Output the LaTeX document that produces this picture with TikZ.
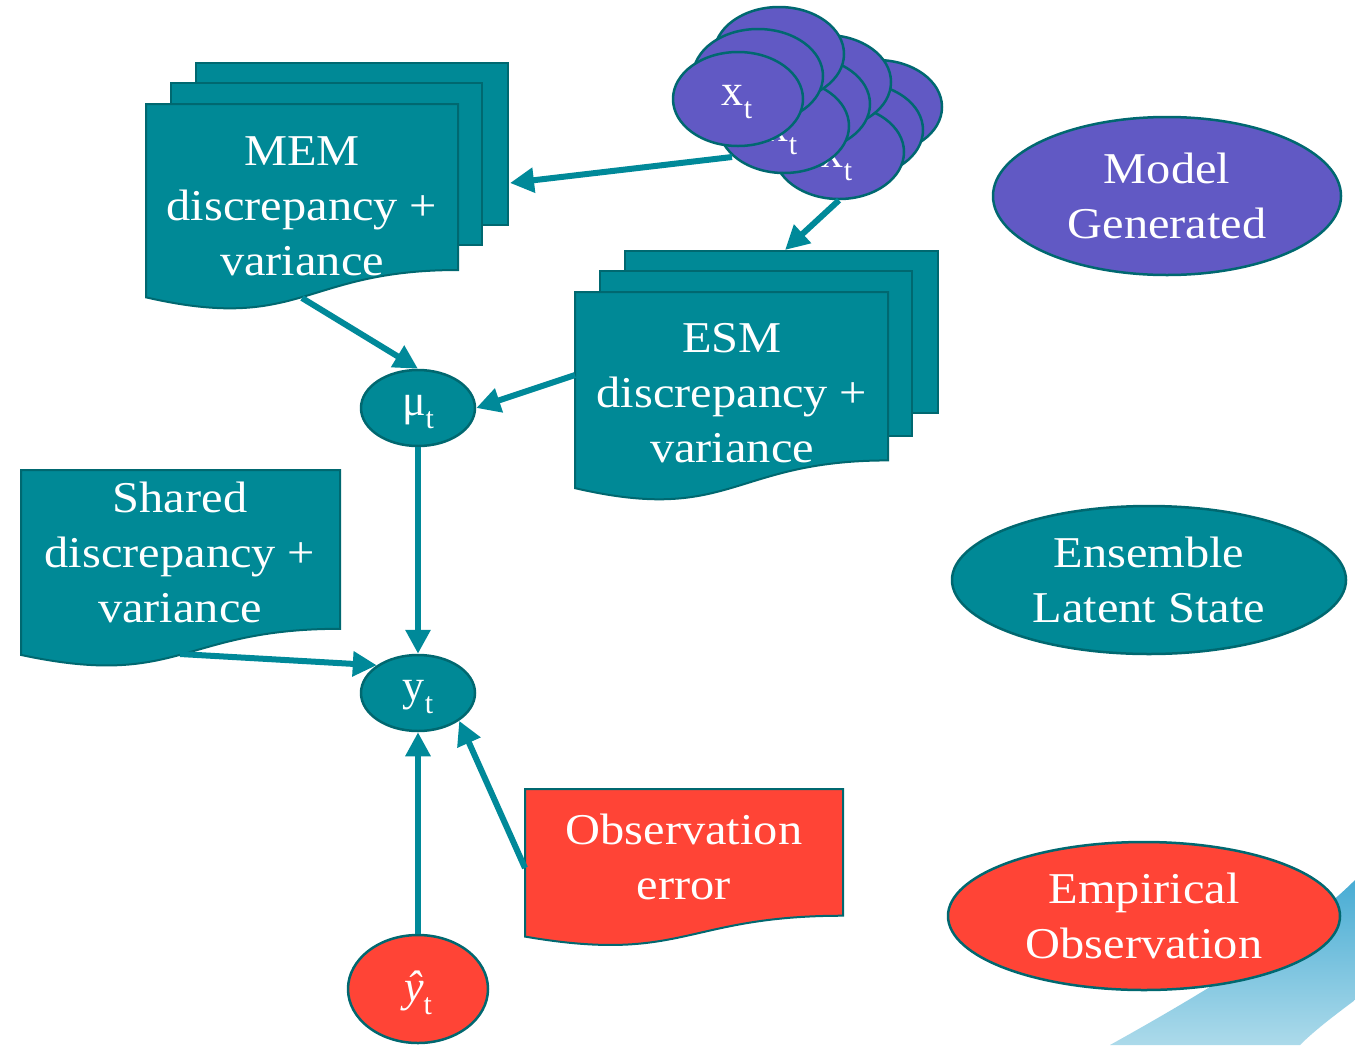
\documentclass[tikz,border=0pt]{standalone}
\usepackage{fontspec}
\setmainfont{Liberation Serif}[FakeStretch=1.1]
\newfontfamily\tnr{Liberation Serif}
\usetikzlibrary{shapes.geometric,arrows.meta}
\definecolor{tealfill}{RGB}{0,137,150}
\definecolor{tealline}{RGB}{0,104,112}
\definecolor{purp}{RGB}{97,89,196}
\definecolor{redf}{RGB}{255,68,54}
\definecolor{arrowc}{RGB}{0,137,153}
\definecolor{swA}{RGB}{72,172,212}
\definecolor{swB}{RGB}{172,218,234}
\newcommand{\mysub}[1]{\raisebox{-0.3em}{\fontsize{30}{30}\selectfont #1}}
% document shape: x1 y1 x2 h style
\newcommand{\docshape}[5]{%
  \draw[#5] (#1,#2) -- (#3,#2) -- (#3,{#2+0.802*#4})
    .. controls ({(#1+#3)/2},{#2+0.802*#4}) and ({(#1+#3)/2},{#2+1.107*#4}) .. (#1,{#2+0.934*#4}) -- cycle;}
\tikzset{
  tealshape/.style={fill=tealfill,draw=tealline,line width=2pt},
  redshape/.style={fill=redf,draw=tealline,line width=2pt},
  big/.style={text=white,font=\fontsize{44}{55}\selectfont,align=center,inner sep=0pt},
  ell/.style={ellipse,draw=tealline,line width=2.5pt,inner sep=0pt,text=white,font=\fontsize{44}{55}\selectfont,align=center},
  var/.style={text=white,font=\tnr\fontsize{44}{55}\selectfont,inner sep=0pt},
  cl/.style={ell,fill=purp,minimum width=130pt,minimum height=94pt},
  conn/.style={draw=arrowc,line width=6pt,-{Triangle[length=24pt,width=24pt]}},
}
\begin{document}
\begin{tikzpicture}[x=1pt,y=-1pt]
\useasboundingbox (0,0) rectangle (1355,1045);
\fill[white] (0,0) rectangle (1355,1045);
% swoosh
\shade[top color=swA,bottom color=swB] (1110,1045) .. controls (1200,995) and (1300,935) .. (1355,880)
  -- (1355,1000) .. controls (1335,1015) and (1315,1030) .. (1300,1045) -- cycle;
% MEM stack
\draw[tealshape] (196,63) rectangle (508,225);
\draw[tealshape] (171,83) rectangle (482,245);
\docshape{146}{104}{458}{207}{tealshape}
\node[big] (mem) at (302,206) {MEM\\discrepancy +\\variance};
% ESM stack
\draw[tealshape] (625,251) rectangle (938,413);
\draw[tealshape] (600,271) rectangle (912,436);
\docshape{575}{292}{888}{210}{tealshape}
\node[big] (esm) at (732,393) {ESM\\discrepancy +\\variance};
% Shared
\docshape{21}{470}{340}{198}{tealshape}
\node[big] (shared) at (180,552) {Shared\\discrepancy +\\variance};
% Observation error
\docshape{525}{789}{843}{158}{redshape}
\node[big] (obs) at (684,857) {Observation\\error};
% x_t cloud
\node[cl] (xc3) at (877,107) {};
\node[cl] (xc2) at (858,130) {};
\node[cl] (xc) at (839,152) {};
\node[var] (xclab) at (837,164) {x\mysub{t}};
\node[cl] (xb3) at (826,82) {};
\node[cl] (xb2) at (805,104) {};
\node[cl] (xb) at (784,126) {};
\node[var] (xblab) at (782,138) {x\mysub{t}};
\node[cl] (xa3) at (779,54) {};
\node[cl] (xa2) at (758,76) {};
\node[cl] (xa) at (738,99) {};
\node[var] (xalab) at (737,102) {x\mysub{t}};
% ellipses
\node[ell,fill=tealfill,minimum width=114pt,minimum height=76pt] (mu) at (418,408) {};
\node[var] (mulab) at (418,412) {μ\mysub{t}};
\node[ell,fill=tealfill,minimum width=114pt,minimum height=76pt] (yt) at (418,693) {};
\node[var] (ytlab) at (418,697) {y\mysub{t}};
\node[ell,fill=redf,minimum width=140pt,minimum height=108pt] (yhat) at (418,989) {};
\node[var] (yhatlab) at (418,993) {\itshape ŷ\upshape\mysub{t}};
% legend
\node[ell,fill=purp,minimum width=348pt,minimum height=158pt] (lg1) at (1167,196) {Model\\Generated};
\node[ell,fill=tealfill,minimum width=394pt,minimum height=148pt] (lg2) at (1149,580) {Ensemble\\Latent State};
\node[ell,fill=redf,minimum width=392pt,minimum height=148pt] (lg3) at (1144,916) {Empirical\\Observation};
% connector end points
\coordinate (memR) at (510,183);
\coordinate (cloudL) at (732,157);
\coordinate (esmT) at (785,250);
\coordinate (memB) at (302,298);
\coordinate (esmL) at (575,375);
\coordinate (sharedB) at (180,654);
\coordinate (obsL) at (525,868);
% connectors
\draw[conn] (cloudL) -- (memR);
\draw[conn] (xc.south) -- (esmT);
\draw[conn] (memB) -- (mu.north);
\draw[conn] (esmL) -- (mu.east);
\draw[conn] (mu.south) -- (yt.north);
\draw[conn] (sharedB) -- (yt.north west);
\draw[conn] (yhat.north) -- (yt.south);
\draw[conn] (obsL) -- (yt.south east);
\end{tikzpicture}
\end{document}
